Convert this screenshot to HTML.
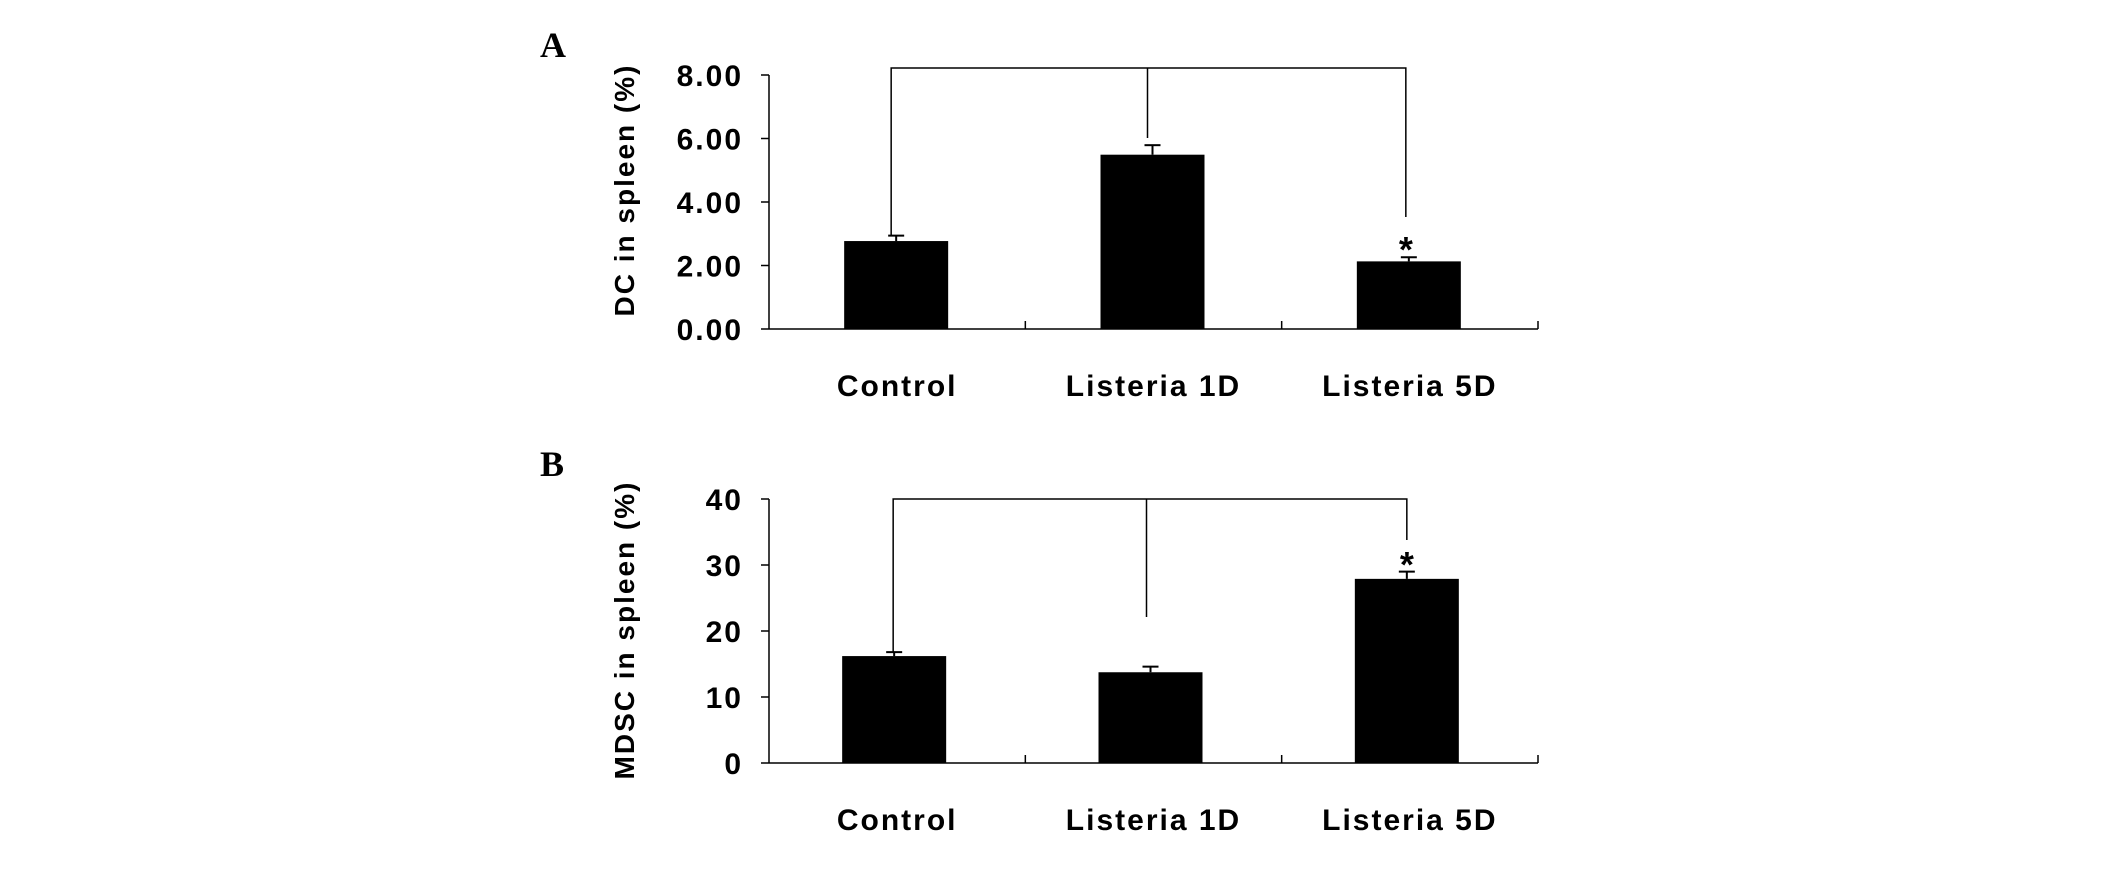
<!DOCTYPE html>
<html><head><meta charset="utf-8"><style>
body{margin:0;background:#fff;overflow:hidden}
svg text{font-family:"Liberation Sans",Arial,sans-serif;font-weight:bold;fill:#000}
</style></head><body>
<svg width="2126" height="865" xmlns="http://www.w3.org/2000/svg">
<g id="root"></g>
</svg>
<script>
const categories=["Control","Listeria 1D","Listeria 5D"];
const dcValues=[2.77,5.49,2.13];
const dcErrors=[0.17,0.3,0.13];
const dcTicks=["0.00","2.00","4.00","6.00","8.00"];
const mdscValues=[16.2,13.75,27.9];
const mdscErrors=[0.6,0.85,1.1];
const mdscTicks=["0","10","20","30","40"];
const NS="http://www.w3.org/2000/svg";
const root=document.getElementById('root');
function mk(tag,attrs,parent){const e=document.createElementNS(NS,tag);for(const k in attrs)e.setAttribute(k,attrs[k]);(parent||root).appendChild(e);return e;}
function panel(opt){
  const g=mk('g',{});
  
  
  const x0=769,x1=1538,yb=opt.y0,yt=opt.y1,max=opt.max;
  const ys=v=>yb-(v/max)*(yb-yt);
  const bw=(x1-x0)/3;
  const xc=i=>x0+bw*i+bw*0.5+(opt.shift||0);
  const L=mk('text',{x:540,y:opt.letterY,'font-size':36,style:'font-family:"Liberation Serif",serif'},g);L.textContent=opt.letter;
  
  
  const ya=mk('line',{x1:x0,y1:yt,x2:x0,y2:yb,stroke:'#000','stroke-width':1.5},g);
  
  
  const xa=mk('line',{x1:x0,y1:yb,x2:x1,y2:yb,stroke:'#000','stroke-width':1.5},g);
  
  
  for(let i=1;i<=3;i++){mk('line',{x1:x0+bw*i,y1:yb,x2:x0+bw*i,y2:yb-8,stroke:'#000','stroke-width':1.5},g);}
  opt.ticks.forEach((t,i)=>{
    const v=max*i/(opt.ticks.length-1);const y=ys(v);
    mk('line',{x1:x0,y1:y,x2:x0-8,y2:y,stroke:'#000','stroke-width':1.5},g);
    const tx=mk('text',{x:743,y:y+11,'font-size':30,'letter-spacing':2,'text-anchor':'end'},g);tx.textContent=t;
    
    
  });
  const yl=mk('text',{x:0,y:0,'font-size':28,'letter-spacing':2,'text-anchor':'middle',transform:`translate(634,${opt.ylabelY}) rotate(-90)`},g);
  yl.textContent=opt.ylabel;
  
  
  categories.forEach((c,i)=>{
    const v=opt.values[i],e=opt.errors[i],cx=xc(i);
    const r=mk('rect',{x:cx-52,y:ys(v),width:104,height:yb-ys(v),fill:'#000'},g);
    
    
    mk('line',{x1:cx,y1:ys(v),x2:cx,y2:ys(v+e),stroke:'#000','stroke-width':2},g);
    mk('line',{x1:cx-8,y1:ys(v+e),x2:cx+8,y2:ys(v+e),stroke:'#000','stroke-width':2},g);
    const t=mk('text',{x:x0+bw*i+bw*0.5,y:opt.catY,'font-size':30,'letter-spacing':2,'text-anchor':'middle'},g);t.textContent=c;
    
    
  });
  const by=opt.bracketY;
  const lx=[xc(0)+opt.lineOff[0],xc(1)+opt.lineOff[1],xc(2)+opt.lineOff[2]];
  const br=mk('path',{d:`M${lx[0]},${ys(opt.values[0]+opt.errors[0])}V${by}H${lx[2]}V${opt.rightEnd}M${lx[1]},${by}V${opt.midEnd}`,fill:'none',stroke:'#000','stroke-width':1.5},g);
  
  
  const st=mk('text',{x:lx[2],y:opt.starY,'font-size':36,'text-anchor':'middle'},g);st.textContent='*';
  
  
}
panel({name:'panel-a',letter:'A',letterY:57,y0:329,y1:75,max:8,ticks:dcTicks,values:dcValues,errors:dcErrors,ylabel:'DC in spleen (%)',ylabelY:190,catY:396,bracketY:68,lineOff:[-5,-5,-3],midEnd:138,rightEnd:217,starY:262,shift:-1});
panel({name:'panel-b',letter:'B',letterY:476,y0:763,y1:499,max:40,ticks:mdscTicks,values:mdscValues,errors:mdscErrors,ylabel:'MDSC in spleen (%)',ylabelY:630,catY:830,bracketY:499,lineOff:[-1,-4,0],midEnd:617,rightEnd:540,starY:577,shift:-3});
</script>
</body></html>
